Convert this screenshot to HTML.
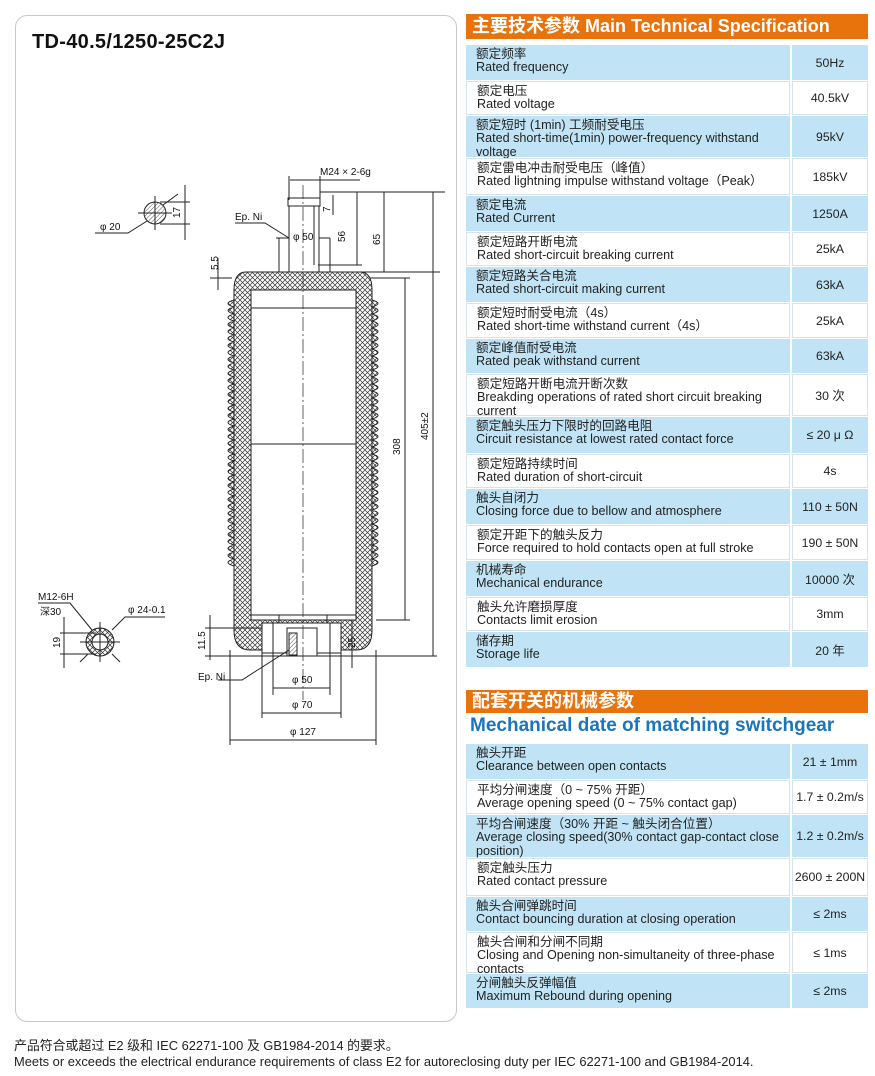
<!DOCTYPE html>
<html><head><meta charset="utf-8">
<style>
body{margin:0;width:875px;height:1076px;background:#fff;position:relative;font-family:"Liberation Sans","Noto Sans CJK SC",sans-serif;overflow:hidden}
.panel{position:absolute;left:15px;top:15px;width:440px;height:1005px;border:1px solid #c8c8c8;border-radius:12px}
.title{position:absolute;left:32px;top:31px;font-size:20px;font-weight:bold;color:#111;letter-spacing:0.3px}
.hdr{position:absolute;left:466px;width:402px;background:#e8730c;color:#fff;font-weight:bold;font-size:18px;padding-left:6px;box-sizing:border-box;line-height:24px}
.r{position:absolute;left:466px;width:402px;box-sizing:border-box}
.r .a{position:absolute;left:0;top:0;bottom:0;width:324px;padding:3px 0 0 10px;box-sizing:border-box;font-size:12.6px;line-height:13.3px;color:#222}
.r .b{position:absolute;left:326px;right:0;top:0;bottom:0;display:flex;align-items:center;justify-content:center;font-size:12.3px;color:#222}
.bl .a,.bl .b{background:#c0e4f5}
.wh .a,.wh .b{background:#fff;border:1px solid #d5e3ea}
.foot{position:absolute;left:14px;font-size:12.9px;color:#222}
svg text{font-family:"Liberation Sans Narrow","Liberation Sans",sans-serif;font-size:10px;fill:#111}
</style></head><body>
<div class="panel"></div>
<div class="title">TD-40.5/1250-25C2J</div>

<svg width="460" height="1020" style="position:absolute;left:0;top:0">
<defs>
<pattern id="h" width="5" height="5" patternUnits="userSpaceOnUse"><path d="M0 0L5 5M5 0L0 5" stroke="#333" stroke-width="0.7"/></pattern>
<pattern id="s" width="3" height="3" patternUnits="userSpaceOnUse" patternTransform="rotate(45)"><path d="M0 0V3" stroke="#333" stroke-width="0.8"/></pattern>
</defs>
<g stroke="#222" stroke-width="1" fill="none">
<path d="M246 272 H360 Q372 272 372 290 V630 Q372 650 356 650 H250 Q234 650 234 630 V290 Q234 272 246 272Z" fill="url(#h)"/>
<rect x="251" y="290" width="105" height="330" fill="#fff"/>
<path d="M234 300 q-12 3.5 0 7 q-12 3.5 0 7 q-12 3.5 0 7 q-12 3.5 0 7 q-12 3.5 0 7 q-12 3.5 0 7 q-12 3.5 0 7 q-12 3.5 0 7 q-12 3.5 0 7 q-12 3.5 0 7 q-12 3.5 0 7 q-12 3.5 0 7 q-12 3.5 0 7 q-12 3.5 0 7 q-12 3.5 0 7 q-12 3.5 0 7 q-12 3.5 0 7 q-12 3.5 0 7 q-12 3.5 0 7 q-12 3.5 0 7 q-12 3.5 0 7 q-12 3.5 0 7 q-12 3.5 0 7 q-12 3.5 0 7 q-12 3.5 0 7 q-12 3.5 0 7 q-12 3.5 0 7 q-12 3.5 0 7 q-12 3.5 0 7 q-12 3.5 0 7 q-12 3.5 0 7 q-12 3.5 0 7 q-12 3.5 0 7 q-12 3.5 0 7 q-12 3.5 0 7 q-12 3.5 0 7 q-12 3.5 0 7 q-12 3.5 0 7" fill="url(#h)"/>
<path d="M372 300 q12 3.5 0 7 q12 3.5 0 7 q12 3.5 0 7 q12 3.5 0 7 q12 3.5 0 7 q12 3.5 0 7 q12 3.5 0 7 q12 3.5 0 7 q12 3.5 0 7 q12 3.5 0 7 q12 3.5 0 7 q12 3.5 0 7 q12 3.5 0 7 q12 3.5 0 7 q12 3.5 0 7 q12 3.5 0 7 q12 3.5 0 7 q12 3.5 0 7 q12 3.5 0 7 q12 3.5 0 7 q12 3.5 0 7 q12 3.5 0 7 q12 3.5 0 7 q12 3.5 0 7 q12 3.5 0 7 q12 3.5 0 7 q12 3.5 0 7 q12 3.5 0 7 q12 3.5 0 7 q12 3.5 0 7 q12 3.5 0 7 q12 3.5 0 7 q12 3.5 0 7 q12 3.5 0 7 q12 3.5 0 7 q12 3.5 0 7 q12 3.5 0 7 q12 3.5 0 7" fill="url(#h)"/>
<line x1="251" y1="308" x2="356" y2="308"/>
<line x1="251" y1="444" x2="356" y2="444"/>
<line x1="251" y1="615" x2="356" y2="615"/>
<rect x="289" y="205" width="30" height="67" fill="#fff"/>
<line x1="314" y1="205" x2="314" y2="265"/>
<rect x="288" y="198" width="32" height="8" fill="#fff"/>
<line x1="276" y1="238" x2="289" y2="238"/><line x1="319" y1="238" x2="330" y2="238"/>
<line x1="279" y1="238" x2="279" y2="272"/><line x1="330" y1="238" x2="330" y2="272"/>
<line x1="265" y1="272" x2="440" y2="272"/>
<line x1="210" y1="278" x2="232" y2="278"/>
<rect x="262" y="623" width="79" height="30" fill="#fff"/>
<rect x="279" y="615" width="48" height="8"/>
<rect x="287" y="628" width="30" height="28" fill="#fff"/>
<rect x="289" y="633" width="8" height="22" fill="url(#s)"/>
<line x1="273" y1="623" x2="273" y2="695"/><line x1="330" y1="623" x2="330" y2="695"/>
<line x1="262" y1="653" x2="262" y2="718"/><line x1="341" y1="653" x2="341" y2="718"/>
<line x1="230" y1="650" x2="230" y2="745"/><line x1="376" y1="650" x2="376" y2="745"/>
<line x1="317" y1="656" x2="437" y2="656"/>
<line x1="273" y1="688" x2="330" y2="688"/><line x1="262" y1="713" x2="341" y2="713"/><line x1="230" y1="740" x2="376" y2="740"/>
<line x1="303" y1="185" x2="303" y2="700" stroke-dasharray="14 3 2 3" stroke-width="0.7"/>
<line x1="320" y1="192" x2="445" y2="192"/>
<line x1="333" y1="195" x2="333" y2="215"/>
<line x1="357" y1="192" x2="357" y2="265"/><line x1="318" y1="265" x2="362" y2="265"/>
<line x1="384" y1="192" x2="384" y2="272"/>
<line x1="433" y1="192" x2="433" y2="656"/>
<line x1="405" y1="278" x2="405" y2="620"/><line x1="376" y1="620" x2="410" y2="620"/>
<line x1="370" y1="278" x2="410" y2="278"/>
<line x1="352" y1="620" x2="352" y2="668"/>
<line x1="218" y1="258" x2="218" y2="290"/>
<line x1="210" y1="615" x2="210" y2="660"/><line x1="205" y1="628" x2="262" y2="628"/><line x1="205" y1="656" x2="287" y2="656"/>
<line x1="290" y1="180" x2="360" y2="180"/><line x1="289" y1="176" x2="289" y2="200"/><line x1="320" y1="176" x2="320" y2="200"/>
<polyline points="235,223 265,223 289,238"/>
<polyline points="218,680 242,680 289,650"/>
<circle cx="155" cy="213" r="11" fill="url(#s)"/>
<line x1="155" y1="196" x2="155" y2="230"/><line x1="138" y1="213" x2="172" y2="213"/>
<polyline points="95,233 128,233 147,221"/><line x1="163" y1="205" x2="178" y2="194"/>
<line x1="185" y1="185" x2="185" y2="240"/><line x1="160" y1="202" x2="190" y2="202"/><line x1="160" y1="224" x2="190" y2="224"/>
<circle cx="100" cy="642" r="14" fill="url(#h)"/><circle cx="100" cy="642" r="8" fill="#fff"/>
<line x1="100" y1="622" x2="100" y2="662"/><line x1="80" y1="642" x2="120" y2="642"/>
<polyline points="38,603 70,603 92,630"/><polyline points="165,617 125,617 112,630"/>
<line x1="80" y1="662" x2="88" y2="654"/><line x1="120" y1="662" x2="112" y2="654"/>
<line x1="64" y1="617" x2="64" y2="668"/><line x1="60" y1="633" x2="96" y2="633"/><line x1="60" y1="654" x2="96" y2="654"/>
</g>
<g fill="#111" stroke="none">
<text x="320" y="175">M24 × 2-6g</text>
<text x="235" y="220">Ep. Ni</text>
<text x="293" y="240">φ 50</text>
<text transform="translate(345,242) rotate(-90)">56</text>
<text transform="translate(380,245) rotate(-90)">65</text>
<text transform="translate(330,212) rotate(-90)">7</text>
<text transform="translate(218,270) rotate(-90)">5.5</text>
<text transform="translate(400,455) rotate(-90)">308</text>
<text transform="translate(428,440) rotate(-90)">405±2</text>
<text transform="translate(205,650) rotate(-90)">11.5</text>
<text transform="translate(355,648) rotate(-90)">25</text>
<text x="198" y="680">Ep. Ni</text>
<text x="292" y="683">φ 50</text>
<text x="292" y="708">φ 70</text>
<text x="290" y="735">φ 127</text>
<text x="100" y="230">φ 20</text>
<text transform="translate(180,218) rotate(-90)">17</text>
<text x="38" y="600">M12-6H</text>
<text x="40" y="615">深30</text>
<text x="128" y="613">φ 24-0.1</text>
<text transform="translate(60,648) rotate(-90)">19</text>
</g>
</svg>

<div class="hdr" style="top:14px;height:25px">主要技术参数 Main Technical Specification</div>
<div class="r bl" style="top:45px;height:35px"><div class="a">额定频率<br>Rated frequency</div><div class="b">50Hz</div></div>
<div class="r wh" style="top:81px;height:34px"><div class="a">额定电压<br>Rated voltage</div><div class="b">40.5kV</div></div>
<div class="r bl" style="top:116px;height:41px"><div class="a">额定短时 (1min) 工频耐受电压<br>Rated short-time(1min) power-frequency withstand voltage</div><div class="b">95kV</div></div>
<div class="r wh" style="top:158px;height:37px"><div class="a">额定雷电冲击耐受电压（峰值）<br>Rated lightning impulse withstand voltage（Peak）</div><div class="b">185kV</div></div>
<div class="r bl" style="top:196px;height:35px"><div class="a">额定电流<br>Rated Current</div><div class="b">1250A</div></div>
<div class="r wh" style="top:232px;height:34px"><div class="a">额定短路开断电流<br>Rated short-circuit breaking current</div><div class="b">25kA</div></div>
<div class="r bl" style="top:267px;height:35px"><div class="a">额定短路关合电流<br>Rated short-circuit making current</div><div class="b">63kA</div></div>
<div class="r wh" style="top:303px;height:35px"><div class="a">额定短时耐受电流（4s）<br>Rated short-time withstand current（4s）</div><div class="b">25kA</div></div>
<div class="r bl" style="top:339px;height:34px"><div class="a">额定峰值耐受电流<br>Rated peak withstand current</div><div class="b">63kA</div></div>
<div class="r wh" style="top:374px;height:42px"><div class="a">额定短路开断电流开断次数<br>Breakding operations of rated short circuit breaking current</div><div class="b">30 次</div></div>
<div class="r bl" style="top:417px;height:36px"><div class="a">额定触头压力下限时的回路电阻<br>Circuit resistance at lowest rated contact force</div><div class="b">≤ 20 μ Ω</div></div>
<div class="r wh" style="top:454px;height:34px"><div class="a">额定短路持续时间<br>Rated duration of short-circuit</div><div class="b">4s</div></div>
<div class="r bl" style="top:489px;height:35px"><div class="a">触头自闭力<br>Closing force due to bellow and atmosphere</div><div class="b">110 ± 50N</div></div>
<div class="r wh" style="top:525px;height:35px"><div class="a">额定开距下的触头反力<br>Force required to hold contacts open at full stroke</div><div class="b">190 ± 50N</div></div>
<div class="r bl" style="top:561px;height:35px"><div class="a">机械寿命<br>Mechanical endurance</div><div class="b">10000 次</div></div>
<div class="r wh" style="top:597px;height:34px"><div class="a">触头允许磨损厚度<br>Contacts limit erosion</div><div class="b">3mm</div></div>
<div class="r bl" style="top:632px;height:35px"><div class="a">储存期<br>Storage life</div><div class="b">20 年</div></div>

<div class="hdr" style="top:690px;height:23px;line-height:23px">配套开关的机械参数</div>
<div style="position:absolute;left:470px;top:715px;font-size:19px;font-weight:bold;color:#1a75bb">Mechanical date of matching switchgear</div>
<div class="r bl" style="top:744px;height:35px"><div class="a">触头开距<br>Clearance between open contacts</div><div class="b">21 ± 1mm</div></div>
<div class="r wh" style="top:780px;height:34px"><div class="a">平均分闸速度（0 ~ 75% 开距）<br>Average opening speed (0 ~ 75% contact gap)</div><div class="b">1.7 ± 0.2m/s</div></div>
<div class="r bl" style="top:815px;height:42px"><div class="a">平均合闸速度（30% 开距 ~ 触头闭合位置）<br>Average closing speed(30% contact gap-contact close position)</div><div class="b">1.2 ± 0.2m/s</div></div>
<div class="r wh" style="top:858px;height:38px"><div class="a">额定触头压力<br>Rated contact pressure</div><div class="b">2600 ± 200N</div></div>
<div class="r bl" style="top:897px;height:34px"><div class="a">触头合闸弹跳时间<br>Contact bouncing duration at closing operation</div><div class="b">≤ 2ms</div></div>
<div class="r wh" style="top:932px;height:41px"><div class="a">触头合闸和分闸不同期<br>Closing and Opening non-simultaneity of three-phase contacts</div><div class="b">≤ 1ms</div></div>
<div class="r bl" style="top:974px;height:34px"><div class="a">分闸触头反弹幅值<br>Maximum Rebound during opening</div><div class="b">≤ 2ms</div></div>

<div class="foot" style="top:1035px">产品符合或超过 E2 级和 IEC 62271-100 及 GB1984-2014 的要求。</div>
<div class="foot" style="top:1054px">Meets or exceeds the electrical endurance requirements of class E2 for autoreclosing duty per IEC 62271-100 and GB1984-2014.</div>
</body></html>
